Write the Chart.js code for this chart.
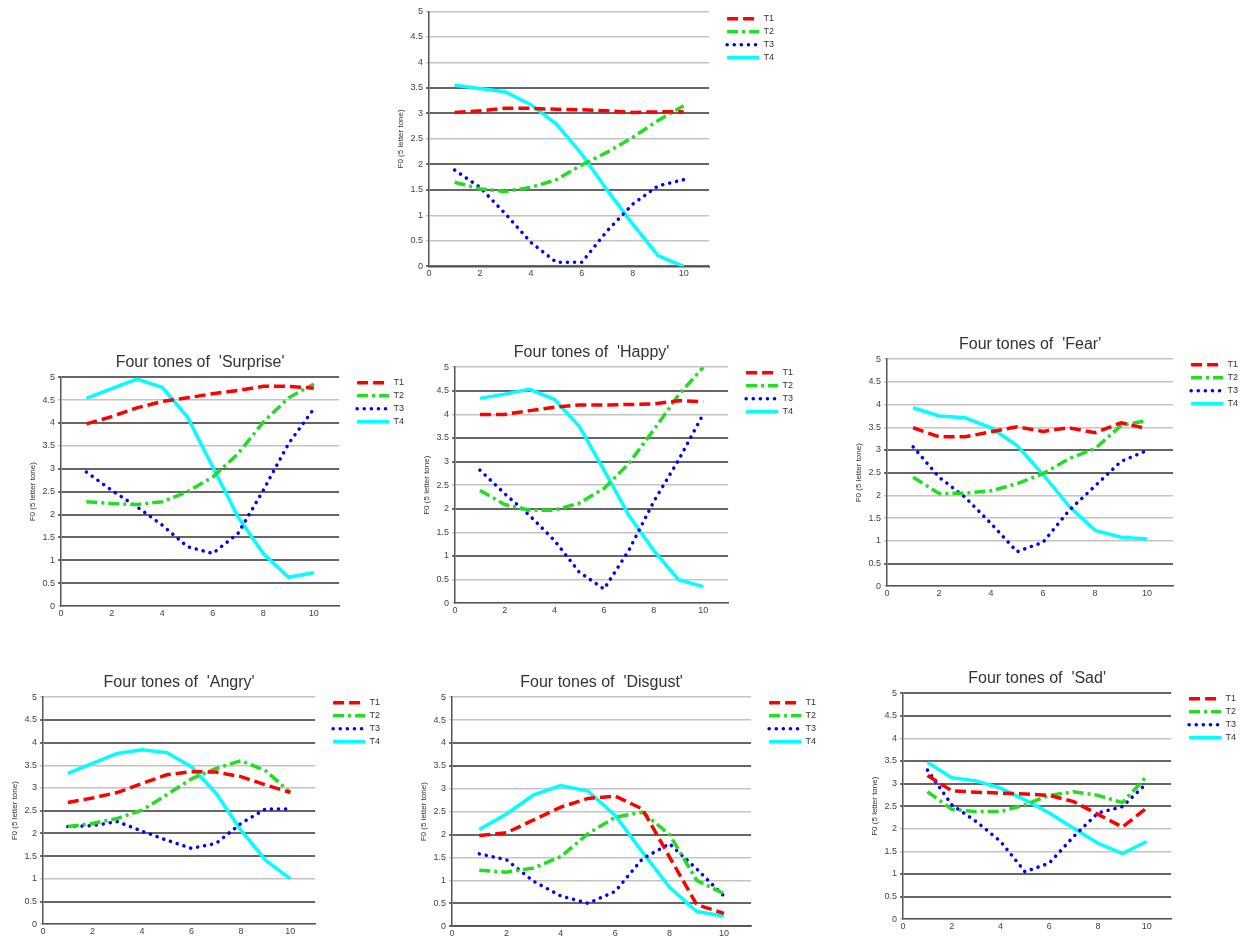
<!DOCTYPE html>
<html>
<head>
<meta charset="utf-8">
<script src="https://cdn.jsdelivr.net/npm/chart.js@4.4.0/dist/chart.umd.min.js"></script>
<style>
  html, body { margin:0; padding:0; background:#fff; width:1249px; height:940px; overflow:hidden; position:relative; }
  canvas { position:absolute; }
</style>
</head>
<body>
<script>
// --- data ---
const tones = ['T1', 'T2', 'T3', 'T4'];
const frames = [1, 2, 3, 4, 5, 6, 7, 8, 9, 10];
const xTickValues = [0, 2, 4, 6, 8, 10];
const yTickValues = [0, 0.5, 1, 1.5, 2, 2.5, 3, 3.5, 4, 4.5, 5];

const neutralT1 = [3.02, 3.05, 3.1, 3.1, 3.08, 3.07, 3.05, 3.02, 3.03, 3.03];
const neutralT2 = [1.65, 1.52, 1.47, 1.55, 1.7, 1.99, 2.24, 2.53, 2.86, 3.15];
const neutralT3 = [1.89, 1.55, 1.03, 0.47, 0.08, 0.08, 0.7, 1.22, 1.58, 1.7];
const neutralT4 = [3.55, 3.49, 3.42, 3.17, 2.79, 2.2, 1.49, 0.83, 0.21, 0];

const surpriseT1 = [3.98, 4.14, 4.33, 4.47, 4.55, 4.64, 4.71, 4.8, 4.8, 4.76];
const surpriseT2 = [2.28, 2.24, 2.22, 2.28, 2.5, 2.82, 3.33, 4.02, 4.55, 4.85];
const surpriseT3 = [2.93, 2.53, 2.17, 1.77, 1.3, 1.15, 1.59, 2.53, 3.55, 4.31];
const surpriseT4 = [4.54, 4.75, 4.96, 4.78, 4.13, 3.04, 1.95, 1.15, 0.63, 0.73];

const happyT1 = [4.0, 4.0, 4.08, 4.15, 4.2, 4.2, 4.21, 4.22, 4.29, 4.27];
const happyT2 = [2.39, 2.09, 1.97, 1.97, 2.12, 2.43, 2.96, 3.67, 4.41, 5.0];
const happyT3 = [2.82, 2.32, 1.86, 1.33, 0.66, 0.3, 1.12, 2.15, 3.03, 4.01];
const happyT4 = [4.34, 4.43, 4.53, 4.32, 3.75, 2.82, 1.86, 1.12, 0.5, 0.35];

const fearT1 = [3.49, 3.29, 3.29, 3.4, 3.51, 3.41, 3.49, 3.38, 3.6, 3.47];
const fearT2 = [2.4, 2.04, 2.05, 2.1, 2.26, 2.48, 2.81, 3.03, 3.54, 3.65];
const fearT3 = [3.07, 2.4, 1.96, 1.38, 0.76, 0.97, 1.67, 2.21, 2.75, 2.99];
const fearT4 = [3.93, 3.75, 3.71, 3.49, 3.1, 2.46, 1.76, 1.23, 1.08, 1.04];

const angryT1 = [2.68, 2.78, 2.9, 3.1, 3.29, 3.36, 3.35, 3.25, 3.07, 2.9];
const angryT2 = [2.15, 2.22, 2.33, 2.51, 2.85, 3.2, 3.43, 3.6, 3.38, 2.9];
const angryT3 = [2.15, 2.17, 2.26, 2.05, 1.85, 1.67, 1.78, 2.22, 2.54, 2.54];
const angryT4 = [3.32, 3.54, 3.76, 3.84, 3.78, 3.47, 2.88, 2.07, 1.41, 1.0];

const disgustT1 = [1.98, 2.04, 2.32, 2.6, 2.79, 2.84, 2.56, 1.51, 0.47, 0.28];
const disgustT2 = [1.22, 1.18, 1.27, 1.52, 2.02, 2.38, 2.49, 2.0, 1.0, 0.71];
const disgustT3 = [1.58, 1.45, 0.98, 0.66, 0.5, 0.76, 1.47, 1.8, 1.25, 0.66];
const disgustT4 = [2.11, 2.45, 2.87, 3.07, 2.95, 2.42, 1.62, 0.85, 0.32, 0.22];

const sadT1 = [3.18, 2.84, 2.81, 2.79, 2.77, 2.74, 2.6, 2.32, 2.04, 2.46];
const sadT2 = [2.82, 2.43, 2.38, 2.38, 2.53, 2.74, 2.82, 2.74, 2.58, 3.16];
const sadT3 = [3.3, 2.53, 2.16, 1.72, 1.05, 1.24, 1.83, 2.35, 2.49, 3.01];
const sadT4 = [3.47, 3.13, 3.06, 2.9, 2.64, 2.35, 2.01, 1.68, 1.45, 1.72];

// --- styling ---
const toneStyle = [
  { color: '#ff0000', dash: [11, 5], cap: 'butt' },
  { color: '#22dd22', dash: [11, 4, 3, 4], cap: 'butt' },
  { color: '#0000ff', dash: [0.1, 7], cap: 'round' },
  { color: '#00ffff', dash: [], cap: 'butt' },
];

// area = target plot box [left, top, right, bottom] on the page; dark = darker grid lines
const panels = [
  { title: '', series: [neutralT1, neutralT2, neutralT3, neutralT4], area: [429, 11, 709, 266], dark: [0, 1.5, 2, 3, 3.5] },
  { title: "Four tones of  'Surprise'", series: [surpriseT1, surpriseT2, surpriseT3, surpriseT4], area: [61, 377, 339, 606], dark: [0.5, 1, 1.5, 2, 2.5, 3, 4, 5] },
  { title: "Four tones of  'Happy'", series: [happyT1, happyT2, happyT3, happyT4], area: [455, 367, 728, 603], dark: [1, 2, 3, 3.5, 4.5] },
  { title: "Four tones of  'Fear'", series: [fearT1, fearT2, fearT3, fearT4], area: [887, 359, 1173, 586], dark: [0.5, 2.5, 3] },
  { title: "Four tones of  'Angry'", series: [angryT1, angryT2, angryT3, angryT4], area: [43, 697, 315, 924], dark: [0.5, 1.5, 2, 2.5, 4, 4.5] },
  { title: "Four tones of  'Disgust'", series: [disgustT1, disgustT2, disgustT3, disgustT4], area: [452, 697, 751, 926], dark: [0, 0.5, 2, 3.5, 4] },
  { title: "Four tones of  'Sad'", series: [sadT1, sadT2, sadT3, sadT4], area: [903, 693, 1171, 919], dark: [0.5, 1, 2.5, 3, 3.5, 4.5, 5] },
];

Chart.defaults.font.family = '"Liberation Sans", Arial, sans-serif';

function legendItems(chart) {
  return Chart.defaults.plugins.legend.labels.generateLabels(chart).map((item, i) => ({
    ...item,
    strokeStyle: toneStyle[i].color,
    fillStyle: toneStyle[i].color,
    lineDash: toneStyle[i].dash,
    lineCap: toneStyle[i].cap,
    lineWidth: 3.5,
  }));
}

function makePanel(p) {
  const [l, t, r, b] = p.area;
  const canvas = document.createElement('canvas');
  canvas.width = (r - l) + 140;
  canvas.height = (b - t) + 70;
  document.body.appendChild(canvas);

  const chart = new Chart(canvas, {
    type: 'line',
    data: {
      labels: frames,
      datasets: p.series.map((d, i) => ({
        label: tones[i],
        data: d,
        borderColor: toneStyle[i].color,
        backgroundColor: toneStyle[i].color,
        borderWidth: 3.5,
        borderDash: toneStyle[i].dash,
        borderCapStyle: toneStyle[i].cap,
        pointRadius: 0,
        tension: 0,
        fill: false,
      })),
    },
    options: {
      responsive: false, maintainAspectRatio: false, animation: false, devicePixelRatio: 1,
      layout: { padding: { top: 0, right: 2, left: 0, bottom: 0 } },
      plugins: {
        title: {
          display: !!p.title, text: p.title, color: '#333', fullSize: false,
          font: { size: 16, weight: 'normal' }, padding: { top: 0, bottom: 5 },
        },
        legend: {
          position: 'right', align: 'start',
          title: { display: true, text: '', font: { size: 1 }, padding: { top: p.title ? 20 : 6, bottom: 0 } },
          labels: {
            usePointStyle: true, pointStyle: 'line', pointStyleWidth: 32, boxHeight: 9,
            color: '#333', font: { size: 9 }, padding: 4,
            generateLabels: legendItems,
          },
        },
        tooltip: { enabled: false },
      },
      scales: {
        x: {
          type: 'linear', min: 0, max: 11,
          afterBuildTicks: s => { s.ticks = xTickValues.map(v => ({ value: v })); },
          ticks: { color: '#444', font: { size: 9 }, padding: 2, maxRotation: 0 },
          grid: { display: false, drawTicks: false },
          border: { display: true, color: '#555', width: 1.5 },
        },
        y: {
          min: 0, max: 5,
          afterBuildTicks: s => { s.ticks = yTickValues.map(v => ({ value: v })); },
          ticks: { color: '#444', font: { size: 9 }, padding: 3, callback: v => String(v) },
          grid: {
            color: ctx => p.dark.includes(ctx.tick.value) ? '#666' : '#c4c4c4',
            lineWidth: ctx => p.dark.includes(ctx.tick.value) ? 2 : 1.5,
            tickLength: 3,
          },
          border: { display: true, color: '#555', width: 1.5 },
          title: { display: true, text: 'F0 (5 letter tone)', color: '#333', font: { size: 8 }, padding: 2 },
        },
        // spacer between plot and legend
        gap: {
          position: 'right', display: true,
          ticks: { display: false }, grid: { display: false }, border: { display: false },
          afterFit: s => { s.width = 14; },
        },
      },
    },
  });

  // size the canvas so the plot box lands on the target box
  let ca = chart.chartArea;
  const w = canvas.width + (r - l) - (ca.right - ca.left);
  const h = canvas.height + (b - t) - (ca.bottom - ca.top);
  chart.resize(w, h);
  ca = chart.chartArea;
  canvas.style.left = (l - ca.left) + 'px';
  canvas.style.top = (t - ca.top) + 'px';
}

panels.forEach(makePanel);
</script>
</body>
</html>
